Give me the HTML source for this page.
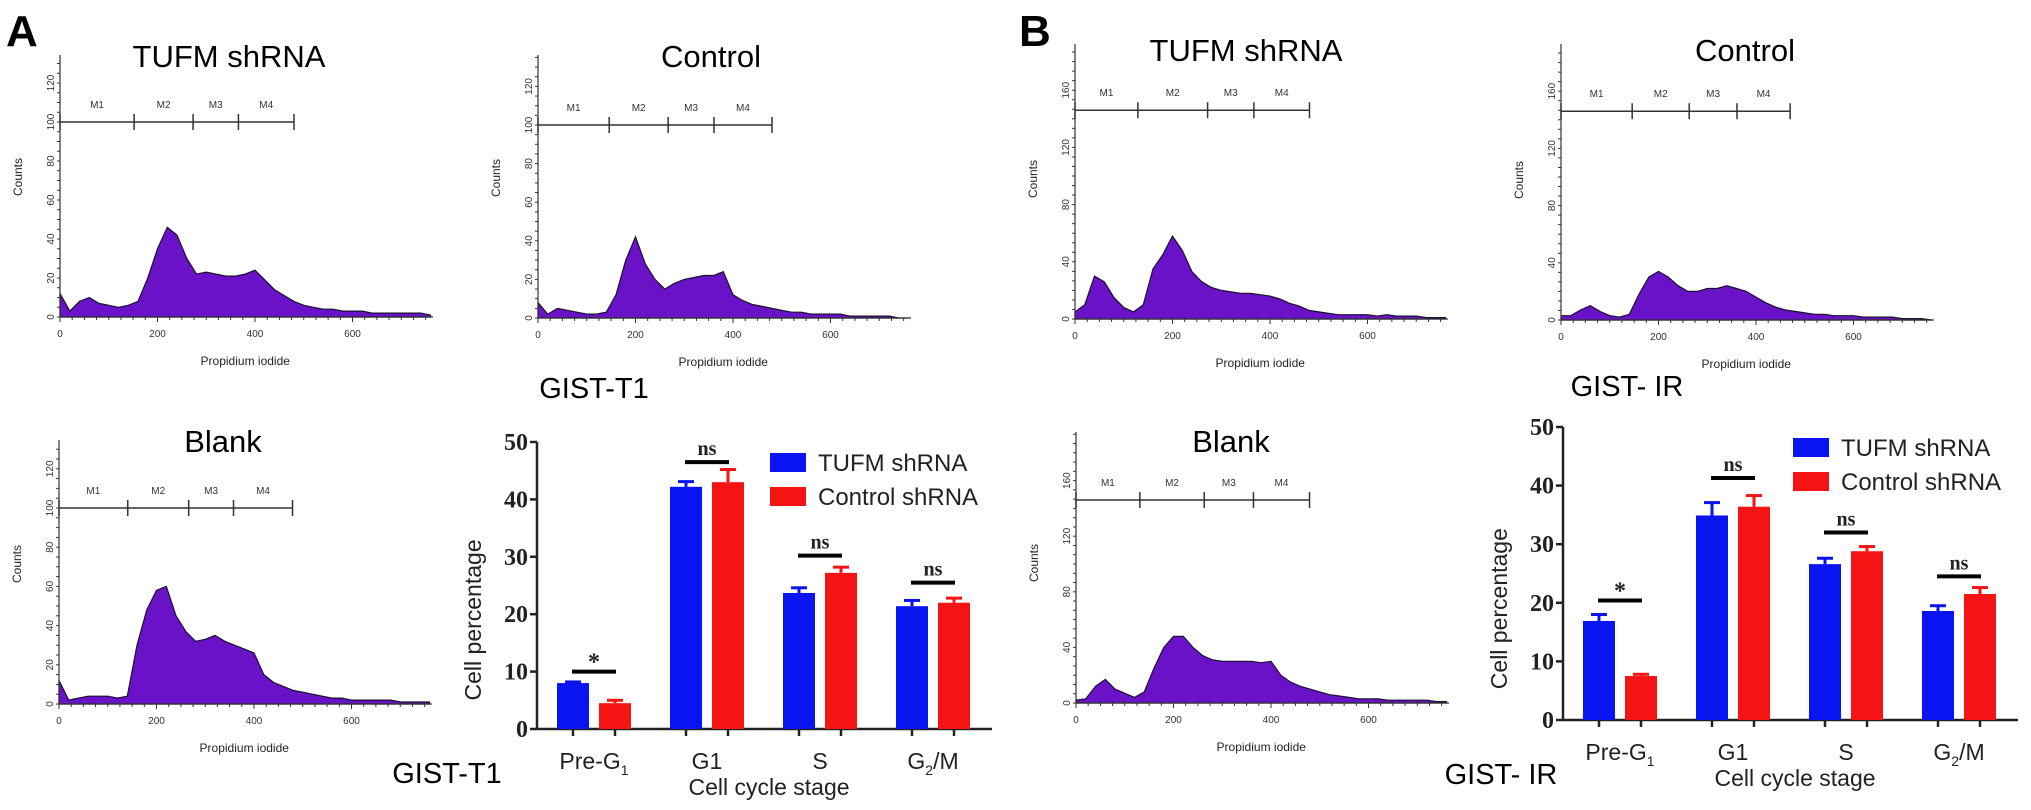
<!DOCTYPE html>
<html><head><meta charset="utf-8"><style>
html,body{margin:0;padding:0;background:#fff;}
svg{display:block;font-family:"Liberation Sans",Arial,sans-serif;}
</style></head><body>
<svg id="fig" width="2031" height="810" viewBox="0 0 2031 810" xmlns="http://www.w3.org/2000/svg">
<text x="6" y="46" font-size="44" font-weight="bold">A</text>
<text x="1019" y="46" font-size="44" font-weight="bold">B</text>
<text x="594" y="398" font-size="29" text-anchor="middle">GIST-T1</text>
<text x="447" y="783" font-size="29" text-anchor="middle">GIST-T1</text>
<text x="1627" y="396" font-size="29" text-anchor="middle">GIST- IR</text>
<text x="1501" y="784" font-size="29" text-anchor="middle">GIST- IR</text>
<g id="hists"></g>
<g id="bars"></g>
</svg>
<script>
// ---- histogram data (counts at Propidium iodide = 0,20,...,760) ----
const histX = [0,20,40,60,80,100,120,140,160,180,200,220,240,260,280,300,320,340,360,380,400,420,440,460,480,500,520,540,560,580,600,620,640,660,680,700,720,740,760];
const histA_tufm = [12,3,8,10,7,6,5,6,8,20,35,46,42,30,22,23,22,21,21,22,24,19,14,11,8,6,5,4,4,3,3,3,2,2,2,2,2,2,1];
const histA_control = [8,2,5,4,3,2,2,3,12,30,42,28,20,15,18,20,21,22,22,24,12,9,7,6,5,4,3,3,2,2,2,2,1,1,1,1,1,0,0];
const histA_blank = [12,2,3,4,4,4,3,4,30,48,58,60,45,37,32,33,35,32,30,28,26,15,11,9,7,6,5,4,3,3,2,2,2,2,2,1,1,1,1];
const histB_tufm = [5,10,30,26,15,8,5,10,35,45,58,48,33,26,22,20,19,18,18,17,16,14,11,9,6,5,4,3,3,3,3,2,3,2,2,2,1,1,1];
const histB_control = [3,3,7,10,6,3,2,4,18,30,34,30,24,20,20,22,22,24,22,20,16,12,9,7,6,5,4,4,3,3,3,2,2,2,2,1,1,1,0];
const histB_blank = [2,3,12,17,10,7,4,8,25,40,48,48,40,34,31,30,30,30,30,29,30,20,15,12,10,8,6,5,4,3,3,3,2,2,2,2,2,1,1];
const xTicksHist = [0,200,400,600];
const yTicksA = [0,20,40,60,80,100,120];
const yTicksB = [0,40,80,120,160];
const markersA1 = [0,152,273,366,480];
const markersA2 = [0,146,267,361,480];
const markersA3 = [0,141,266,358,479];
const markersB1 = [0,129,272,367,481];
const markersB2 = [0,146,263,361,470];
const markersB3 = [0,131,263,364,479];
const markerLabels = ["M1","M2","M3","M4"];

// ---- bar chart data ----
const categories = ["Pre-G1","G1","S","G2/M"];
const tufmA = [8.0,42.2,23.7,21.4];
const tufmAErr = [0.2,0.9,0.9,1.0];
const ctrlA = [4.5,43.0,27.2,22.0];
const ctrlAErr = [0.5,2.2,1.0,0.8];
const sigA = [10,46.5,30.2,25.5];
const sigLabelsA = ["*","ns","ns","ns"];
const tufmB = [16.9,34.9,26.6,18.6];
const tufmBErr = [1.1,2.2,1.0,0.9];
const ctrlB = [7.5,36.4,28.8,21.5];
const ctrlBErr = [0.3,1.9,0.8,1.1];
const sigB = [20.4,41.3,32.0,24.5];
const sigLabelsB = ["*","ns","ns","ns"];
const yTicksBar = [0,10,20,30,40,50];

const NS = "http://www.w3.org/2000/svg";
function mk(tag, attrs, parent, txt){
  const e = document.createElementNS(NS, tag);
  for (const k in attrs) e.setAttribute(k, attrs[k]);
  if (txt !== undefined) e.textContent = txt;
  parent.appendChild(e);
  return e;
}

function drawHist(g, cfg){
  const ax = cfg.ax, y0 = cfg.y0, k = cfg.k, sx = 0.4875;
  const X = v => ax + v*sx;
  const Y = c => y0 - c*k;
  const grp = mk("g", {}, g);
  
  
  const t = mk("text", {x: cfg.tx, y: cfg.ty, "font-size": 31, "text-anchor": "middle"}, grp, cfg.title);
  
  
  // area
  let d = "M" + X(0) + "," + y0;
  cfg.data.forEach((c,i)=>{ d += " L" + X(histX[i]).toFixed(1) + "," + Y(c).toFixed(1); });
  d += " L" + X(histX[histX.length-1]) + "," + y0 + " Z";
  const p = mk("path", {d: d, fill: "#6a12c8", stroke: "#1a1030", "stroke-width": 1.2}, grp);
  
  
  // axes
  const yl = mk("line", {x1: ax, y1: cfg.top, x2: ax, y2: y0, stroke: "#333", "stroke-width": 1.2}, grp);
  
  
  const xl = mk("line", {x1: ax, y1: y0, x2: X(765), y2: y0, stroke: "#333", "stroke-width": 1.2}, grp);
  
  
  for (let v = 0; v <= 760; v += 25) {
    mk("line", {x1: X(v), y1: y0, x2: X(v), y2: y0 + (v % 200 === 0 ? 5 : 3), stroke: "#333", "stroke-width": 1}, grp);
  }
  const ymax = cfg.yt[cfg.yt.length-1];
  for (let c = 0; c <= (y0 - cfg.top)/k; c += ymax/24) {
    mk("line", {x1: ax - 3, y1: Y(c), x2: ax, y2: Y(c), stroke: "#333", "stroke-width": 1}, grp);
  }
  xTicksHist.forEach(v=>{
    const tl = mk("text", {x: X(v), y: y0 + 20, "font-size": 10, "text-anchor": "middle", fill: "#333"}, grp, String(v));
    
    
  });
  cfg.yt.forEach(c=>{
    const tl = mk("text", {x: 0, y: 0, "font-size": 10, "text-anchor": "middle", fill: "#333",
      transform: "translate(" + (ax - 6) + "," + Y(c) + ") rotate(-90)"}, grp, String(c));
    
    
  });
  const xt = mk("text", {x: X(380), y: y0 + 48, "font-size": 12, "text-anchor": "middle", fill: "#222"}, grp, "Propidium iodide");
  
  
  const yt = mk("text", {x: 0, y: 0, "font-size": 12, "text-anchor": "middle", fill: "#222",
    transform: "translate(" + (ax - 38) + "," + (y0 - 140) + ") rotate(-90)"}, grp, "Counts");
  
  
  // markers
  const my = Y(cfg.mc);
  const m = cfg.markers;
  mk("line", {x1: X(m[0]), y1: my, x2: X(m[m.length-1]), y2: my, stroke: "#333", "stroke-width": 1.5}, grp);
  m.forEach(v=>{ mk("line", {x1: X(v), y1: my - 8, x2: X(v), y2: my + 8, stroke: "#333", "stroke-width": 1.5}, grp); });
  for (let i = 0; i < m.length - 1; i++) {
    const ml = mk("text", {x: (X(m[i]) + X(m[i+1]))/2, y: my - 14, "font-size": 10, "text-anchor": "middle", fill: "#333"}, grp, markerLabels[i]);
    
    
  }
}

const hg = document.getElementById("hists");
drawHist(hg, {name:"hist-a-tufm", ax:60, y0:317, k:1.95, top:55, yt:yTicksA, mc:100, markers:markersA1, data:histA_tufm, title:"TUFM shRNA", tx:229, ty:67});
drawHist(hg, {name:"hist-a-control", ax:538, y0:318, k:1.93, top:55, yt:yTicksA, mc:100, markers:markersA2, data:histA_control, title:"Control", tx:711, ty:67});
drawHist(hg, {name:"hist-a-blank", ax:59, y0:704, k:1.96, top:440, yt:yTicksA, mc:100, markers:markersA3, data:histA_blank, title:"Blank", tx:223, ty:452});
drawHist(hg, {name:"hist-b-tufm", ax:1075, y0:319, k:1.43, top:44, yt:yTicksB, mc:146, markers:markersB1, data:histB_tufm, title:"TUFM shRNA", tx:1246, ty:61});
drawHist(hg, {name:"hist-b-control", ax:1561, y0:320, k:1.43, top:44, yt:yTicksB, mc:146, markers:markersB2, data:histB_control, title:"Control", tx:1745, ty:61});
drawHist(hg, {name:"hist-b-blank", ax:1076, y0:703, k:1.39, top:432, yt:yTicksB, mc:146, markers:markersB3, data:histB_blank, title:"Blank", tx:1231, ty:452});

function drawBars(g, cfg){
  const ax = cfg.ax, y0 = cfg.y0, y50 = cfg.y50;
  const Y = v => y0 - v*(y0 - y50)/50;
  const C = i => ax + 57 + i*113;
  const grp = mk("g", {}, g);
  
  
  const ya = mk("line", {x1: ax, y1: y50, x2: ax, y2: y0, stroke: "#222", "stroke-width": 2.5}, grp);
  
  
  const xa = mk("line", {x1: ax, y1: y0, x2: ax + 455, y2: y0, stroke: "#222", "stroke-width": 2.5}, grp);
  
  
  yTicksBar.forEach(v=>{
    mk("line", {x1: ax - 7, y1: Y(v), x2: ax, y2: Y(v), stroke: "#222", "stroke-width": 2.5}, grp);
    const tl = mk("text", {x: ax - 9, y: Y(v) + 8, "font-size": 24, "font-weight": "bold", "text-anchor": "end", "font-family": "Liberation Serif, serif", fill: "#222"}, grp, String(v));
    
    
  });
  const yt = mk("text", {x: 0, y: 0, "font-size": 23, "text-anchor": "middle", fill: "#222",
    transform: "translate(" + (ax - 56) + "," + (Y(19)) + ") rotate(-90)"}, grp, "Cell percentage");
  
  
  const xt = mk("text", {x: ax + 232, y: y0 + 66, "font-size": 23, "text-anchor": "middle", fill: "#222"}, grp, "Cell cycle stage");
  
  
  categories.forEach((cat,i)=>{
    const c = C(i);
    [[cfg.t, cfg.te, "#0a14f0", -21, "tufm"], [cfg.c, cfg.ce, "#f51414", 21, "control"]].forEach(s=>{
      const cx = c + s[3], v = s[0][i], e = s[1][i];
      mk("line", {x1: cx, y1: Y(v), x2: cx, y2: Y(v + e), stroke: s[2], "stroke-width": 3}, grp);
      mk("line", {x1: cx - 8, y1: Y(v + e), x2: cx + 8, y2: Y(v + e), stroke: s[2], "stroke-width": 3}, grp);
      const r = mk("rect", {x: cx - 16, y: Y(v), width: 32, height: y0 - Y(v), fill: s[2]}, grp);
      
      
      mk("line", {x1: cx, y1: y0, x2: cx, y2: y0 + 7, stroke: "#222", "stroke-width": 2.5}, grp);
    });
    const sl = mk("line", {x1: c - 22, y1: Y(cfg.sig[i]), x2: c + 22, y2: Y(cfg.sig[i]), stroke: "#000", "stroke-width": 4}, grp);
    
    
    const st = mk("text", {x: c, y: Y(cfg.sig[i]) - (cfg.sl[i] === "*" ? 2 : 7), "font-size": cfg.sl[i] === "*" ? 24 : 20, "font-weight": "bold", "text-anchor": "middle", "font-family": "Liberation Serif, serif", fill: "#222"}, grp, cfg.sl[i]);
    
    
    const lab = mk("text", {x: c, y: y0 + 40, "font-size": 23, "text-anchor": "middle", fill: "#222"}, grp);
    
    
    if (cat === "Pre-G1") { lab.textContent = "Pre-G"; mk("tspan", {"font-size": 14, dy: 6}, lab, "1"); }
    else if (cat === "G2/M") { lab.textContent = "G"; mk("tspan", {"font-size": 14, dy: 6}, lab, "2"); mk("tspan", {dy: -6}, lab, "/M"); }
    else lab.textContent = cat;
  });
  const lg = mk("g", {}, grp);
  
  
  mk("rect", {x: cfg.lx, y: cfg.ly, width: 36, height: 19, fill: "#0a14f0"}, lg);
  mk("rect", {x: cfg.lx, y: cfg.ly + 34, width: 36, height: 19, fill: "#f51414"}, lg);
  const l1 = mk("text", {x: cfg.lx + 48, y: cfg.ly + 18, "font-size": 24, fill: "#222"}, lg, "TUFM shRNA");
  
  
  const l2 = mk("text", {x: cfg.lx + 48, y: cfg.ly + 52, "font-size": 24, fill: "#222"}, lg, "Control shRNA");
  
  
}

const bg = document.getElementById("bars");
drawBars(bg, {name:"bar-chart-a", ax:537, y0:729, y50:442, t:tufmA, te:tufmAErr, c:ctrlA, ce:ctrlAErr, sig:sigA, sl:sigLabelsA, lx:770, ly:453});
drawBars(bg, {name:"bar-chart-b", ax:1563, y0:720, y50:427, t:tufmB, te:tufmBErr, c:ctrlB, ce:ctrlBErr, sig:sigB, sl:sigLabelsB, lx:1793, ly:438});
</script>
</body></html>
